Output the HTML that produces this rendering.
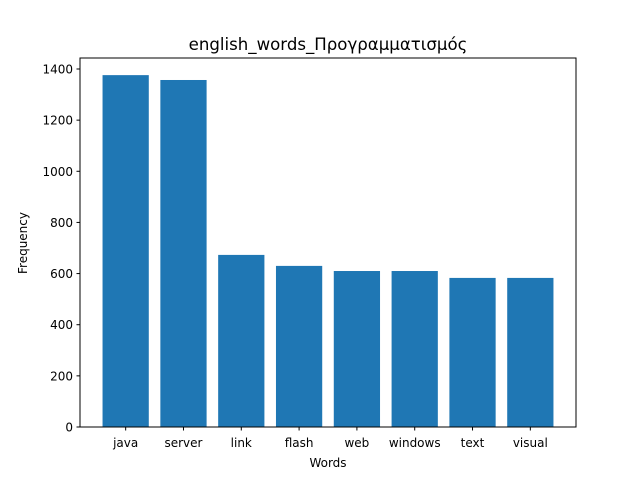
<!DOCTYPE html>
<html><head><meta charset="utf-8"><style>
body{margin:0;background:#fff;}
svg text{font-family:"DejaVu Sans","Liberation Sans",sans-serif;fill:#000;}
</style></head><body>
<svg id="chart" width="640" height="480" xmlns="http://www.w3.org/2000/svg">
<rect width="640" height="480" fill="#fff"/>
<text x="328" y="50" font-size="16.6" text-anchor="middle">english_words_Προγραμματισμός</text>
<text x="328" y="467" font-size="12" text-anchor="middle">Words</text>
<text x="0" y="0" font-size="12" text-anchor="middle" transform="translate(27,243) rotate(-90)">Frequency</text>
<g id="bars"></g><g id="xt"></g><g id="yt"></g>
<rect x="80" y="58" width="496" height="369" fill="none" stroke="#000" stroke-width="1"/>
</svg>
<script>
const categories=["java","server","link","flash","web","windows","text","visual"];
const values=[1376,1357,673,630,610,610,583,583];
const yTicks=[0,200,400,600,800,1000,1200,1400];
const L=80,R=576,T=58,B=427;
const xmin=-0.79,xmax=7.79,ymax=1443;
const xs=v=>L+(v-xmin)/(xmax-xmin)*(R-L);
const ys=v=>B-v/ymax*(B-T);
const NS="http://www.w3.org/2000/svg";
function mk(t,a,p){const e=document.createElementNS(NS,t);for(const k in a)e.setAttribute(k,a[k]);p.appendChild(e);return e;}
const bars=document.getElementById('bars'),xt=document.getElementById('xt'),yt=document.getElementById('yt');
categories.forEach((c,i)=>{
const x0=xs(i-0.4),x1=xs(i+0.4);
const r=mk('rect',{x:x0,y:ys(values[i]),width:x1-x0,height:B-ys(values[i]),fill:'#1f77b4'},bars);


const tk=mk('line',{x1:xs(i),x2:xs(i),y1:B,y2:B+3.5,stroke:'#000'},xt);


const t=mk('text',{x:xs(i),y:B+20,'font-size':12,'text-anchor':'middle'},xt);
t.textContent=c;


});
yTicks.forEach(v=>{
const y=ys(v);
const tk=mk('line',{x1:L-3.5,x2:L,y1:y,y2:y,stroke:'#000'},yt);


const t=mk('text',{x:L-7,y:y+4.5,'font-size':12,'text-anchor':'end'},yt);
t.textContent=v;


});
</script>
</body></html>
